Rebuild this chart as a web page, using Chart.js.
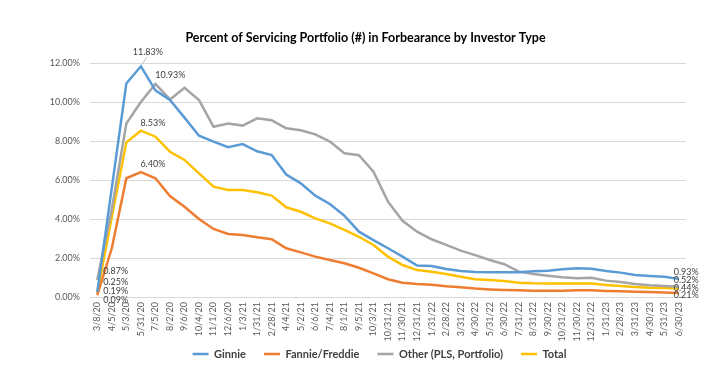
<!DOCTYPE html>
<html>
<head>
<meta charset="utf-8">
<script src="https://cdn.jsdelivr.net/npm/chart.js@4"></script>
<style>
  body { margin: 0; background: #fff; }
</style>
</head>
<body>
<canvas id="chart" width="717" height="376"></canvas>
<script>
const labels = ["3/8/20", "4/5/20", "5/3/20", "5/31/20", "7/5/20", "8/2/20", "9/6/20", "10/4/20", "11/1/20", "12/6/20",
  "1/3/21", "1/31/21", "2/28/21", "4/4/21", "5/2/21", "6/6/21", "7/4/21", "8/1/21", "9/5/21", "10/3/21", "10/31/21", "11/30/21", "12/31/21",
  "1/31/22", "2/28/22", "3/31/22", "4/30/22", "5/31/22", "6/30/22", "7/31/22", "8/31/22", "9/30/22", "10/31/22", "11/30/22", "12/31/22",
  "1/31/23", "2/28/23", "3/31/23", "4/30/23", "5/31/23", "6/30/23"];

const ginnie = [0.25, 5.6, 10.95, 11.83, 10.6, 10.1, 9.2, 8.27, 7.97, 7.68,
  7.84, 7.47, 7.28, 6.28, 5.83, 5.2, 4.77, 4.17, 3.35, 2.92, 2.5, 2.07, 1.61,
  1.59, 1.44, 1.33, 1.28, 1.27, 1.27, 1.27, 1.32, 1.35, 1.42, 1.47, 1.45,
  1.33, 1.25, 1.13, 1.08, 1.04, 0.93];
const fannie = [0.09, 2.5, 6.09, 6.40, 6.09, 5.18, 4.63, 4.0, 3.49, 3.23,
  3.18, 3.06, 2.96, 2.5, 2.29, 2.07, 1.9, 1.73, 1.5, 1.21, 0.91, 0.73, 0.67,
  0.63, 0.55, 0.5, 0.43, 0.39, 0.36, 0.34, 0.32, 0.32, 0.32, 0.34, 0.34,
  0.31, 0.29, 0.27, 0.26, 0.23, 0.21];
const other = [0.87, 4.5, 8.9, 10.0, 10.93, 10.13, 10.73, 10.1, 8.73, 8.9,
  8.79, 9.16, 9.06, 8.65, 8.55, 8.34, 7.97, 7.37, 7.27, 6.43, 4.89, 3.91, 3.35,
  2.96, 2.67, 2.38, 2.15, 1.9, 1.68, 1.3, 1.18, 1.09, 1.01, 0.96, 0.99,
  0.84, 0.77, 0.67, 0.6, 0.56, 0.52];
const total = [0.19, 4.1, 7.93, 8.53, 8.22, 7.45, 7.03, 6.34, 5.66, 5.49,
  5.49, 5.37, 5.2, 4.6, 4.37, 4.03, 3.78, 3.44, 3.09, 2.67, 2.07, 1.64, 1.38,
  1.3, 1.18, 1.04, 0.91, 0.87, 0.82, 0.73, 0.7, 0.69, 0.69, 0.69, 0.69,
  0.62, 0.56, 0.51, 0.48, 0.46, 0.44];

const yTicks = [0, 2, 4, 6, 8, 10, 12];

const colors = {
  ginnie: "#5B9BD5",
  fannie: "#ED7D31",
  other: "#A5A5A5",
  total: "#FFC000"
};

// which points get a value label, and where it sits relative to the point
const callouts = [
  { ds: 0, i: 0, dx: 6, dy: -10, align: "left" },
  { ds: 2, i: 0, dx: 6, dy: -9, align: "left" },
  { ds: 3, i: 0, dx: 6, dy: -2, align: "left" },
  { ds: 1, i: 0, dx: 6, dy: 5, align: "left" },
  { ds: 0, i: 3, dx: 7, dy: -14, align: "center", leader: true },
  { ds: 2, i: 4, dx: 15, dy: -9, align: "center" },
  { ds: 3, i: 3, dx: 12, dy: -8, align: "center" },
  { ds: 1, i: 3, dx: 12, dy: -8, align: "center" },
  { ds: 0, i: 40, dx: -5, dy: -7, align: "left" },
  { ds: 2, i: 40, dx: -5, dy: -7, align: "left" },
  { ds: 3, i: 40, dx: -5, dy: 0, align: "left" },
  { ds: 1, i: 40, dx: -5, dy: 2, align: "left" }
];

const calloutPlugin = {
  id: "callouts",
  afterLayout(chart) {
    // let the rotated date labels hang below the axis box, nudge legend right
    chart.scales.x.bottom += 14;
    chart.legend.left += 14;
    chart.legend.right += 14;
  },
  afterDatasetsDraw(chart) {
    const ctx = chart.ctx;
    ctx.save();
    ctx.font = "9px Lato";
    ctx.fillStyle = "#404040";
    ctx.textBaseline = "middle";
    callouts.forEach(c => {
      const pt = chart.getDatasetMeta(c.ds).data[c.i];
      const val = chart.data.datasets[c.ds].data[c.i];
      const x = pt.x + c.dx, y = pt.y + c.dy;
      if (c.leader) {
        ctx.strokeStyle = "#bfbfbf";
        ctx.lineWidth = 1;
        ctx.beginPath();
        ctx.moveTo(pt.x + 1, pt.y - 2);
        ctx.lineTo(x - 1, y + 5);
        ctx.stroke();
      }
      ctx.textAlign = c.align;
      ctx.fillText(val.toFixed(2) + "%", x, y);
    });
    ctx.restore();
  }
};

function series(label, data, color) {
  return {
    label, data,
    borderColor: color,
    backgroundColor: color,
    borderWidth: 2.5,
    pointRadius: 0,
    tension: 0
  };
}

new Chart(document.getElementById("chart"), {
  type: "line",
  data: {
    labels,
    datasets: [
      series("Ginnie", ginnie, colors.ginnie),
      series("Fannie/Freddie", fannie, colors.fannie),
      series("Other (PLS, Portfolio)", other, colors.other),
      series("Total", total, colors.total)
    ]
  },
  options: {
    responsive: false,
    devicePixelRatio: 1,
    animation: false,
    layout: { padding: { left: 45, right: 31, top: 0, bottom: 15.5 } },
    scales: {
      x: {
        offset: true,
        grid: { display: false, drawTicks: false },
        border: { color: "#d9d9d9" },
        ticks: {
          autoSkip: false, maxRotation: 90, minRotation: 90,
          font: { family: "Lato", size: 9 }, color: "#595959", padding: 5
        },
        afterFit(scale) { scale.height = 33.5; }
      },
      y: {
        min: 0, max: 12,
        afterBuildTicks(scale) { scale.ticks = yTicks.map(v => ({ value: v })); },
        grid: { color: "#d9d9d9", drawTicks: false },
        border: { display: false },
        ticks: {
          padding: 10,
          font: { family: "Lato", size: 9 }, color: "#595959",
          callback: v => v.toFixed(2) + "%"
        },
        afterFit(scale) { scale.width = 45; }
      }
    },
    plugins: {
      title: {
        display: true,
        text: "Percent of Servicing Portfolio (#) in Forbearance by Investor Type",
        font: { family: "Lato", size: 12.5, weight: "bold" },
        color: "#000",
        padding: { top: 30, bottom: 18 }
      },
      legend: {
        position: "bottom",
        maxHeight: 30,
        labels: {
          usePointStyle: true,
          pointStyle: "line",
          pointStyleWidth: 16,
          font: { family: "Lato", size: 11, weight: "bold" },
          color: "#404040",
          padding: 18
        }
      },
      tooltip: { enabled: false }
    }
  },
  plugins: [calloutPlugin]
});
</script>
</body>
</html>
